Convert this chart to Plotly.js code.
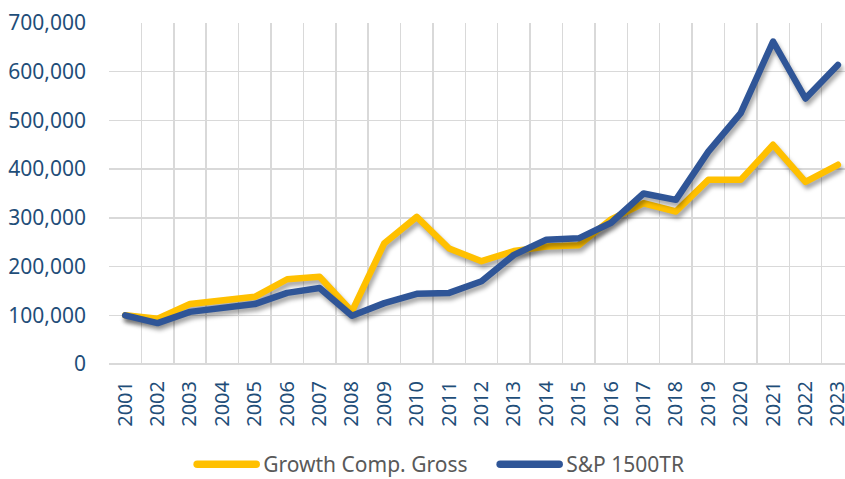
<!DOCTYPE html>
<html>
<head>
<meta charset="utf-8">
<script src="https://cdn.plot.ly/plotly-3.0.1.min.js"></script>
<style>
html,body{margin:0;padding:0;background:#fff;}
#chart{width:845px;height:479px;}
.scatterlayer .trace{filter: drop-shadow(2px 4px 2px rgba(0,0,0,0.35));}
.scatterlayer .js-line{stroke-linejoin:round;stroke-linecap:round;}
.legend .legendlines path{stroke-linecap:round;}
</style>
</head>
<body>
<div id="chart"></div>
<script>
const years = ["2001","2002","2003","2004","2005","2006","2007","2008","2009","2010","2011","2012","2013","2014","2015","2016","2017","2018","2019","2020","2021","2022","2023"];
const growthCompGross = [100000,93000,123000,130000,138000,174000,179000,108000,248000,302000,237000,211000,232000,241000,244000,297000,330000,313000,378000,378000,450000,374000,409000];
const sp1500tr = [100000,84000,107000,116000,123000,146000,156000,99000,125000,144000,146000,170000,224000,255000,258000,290000,350000,337000,436000,515000,662000,545000,614000];
const yTicks = [0,100000,200000,300000,400000,500000,600000,700000];
const yTickText = ["0","100,000","200,000","300,000","400,000","500,000","600,000","700,000"];

const axisColor = "#1F4E79";
const data = [
  {x: years, y: growthCompGross, name: "Growth Comp. Gross", type: "scatter", mode: "lines",
   line: {color: "#FFC000", width: 6.5}},
  {x: years, y: sp1500tr, name: "S&P 1500TR", type: "scatter", mode: "lines",
   line: {color: "#2F5597", width: 6.5}}
];
const layout = {
  width: 845, height: 479,
  margin: {l: 109, r: 0, t: 23, b: 115, autoexpand: false},
  paper_bgcolor: "#fff", plot_bgcolor: "#fff",
  showlegend: true,
  font: {family: "Noto Sans, sans-serif"},
  xaxis: {
    type: "category", range: [-0.5, 22.22], tickson: "boundaries",
    showgrid: true, gridcolor: "#D9D9D9", gridwidth: 1.5,
    ticks: "", tickangle: -90, ticklabelstandoff: 12,
    tickfont: {size: 20, color: axisColor, family: "Noto Sans, sans-serif"},
    showline: false, zeroline: false, fixedrange: true, automargin: false
  },
  yaxis: {
    range: [0, 700000], tickvals: yTicks, ticktext: yTickText,
    showgrid: true, gridcolor: "#D9D9D9", gridwidth: 1.5,
    zeroline: true, zerolinecolor: "#D9D9D9", zerolinewidth: 1.5,
    ticks: "", ticklabelstandoff: 22,
    tickfont: {size: 21, color: axisColor, family: "Noto Sans, sans-serif"},
    showline: false, fixedrange: true, automargin: false
  },
  legend: {
    orientation: "h", x: 0.113, xanchor: "left", y: -0.295, yanchor: "middle",
    font: {size: 21, color: "#595959", family: "Noto Sans, sans-serif"},
    itemwidth: 61, entrywidth: 227, entrywidthmode: "pixels", traceorder: "normal"
  }
};
Plotly.newPlot("chart", data, layout, {staticPlot: true, displayModeBar: false}).then(function(gd){
  gd.querySelectorAll(".legend .legendlines path").forEach(function(p){
    p.setAttribute("d", "M5,0h59");
    p.style.strokeWidth = "7.5px";
  });
  gd.querySelectorAll(".legend .scrollbox, .legend").forEach(function(el){
    el.removeAttribute("clip-path");
  });
});
</script>
</body>
</html>
